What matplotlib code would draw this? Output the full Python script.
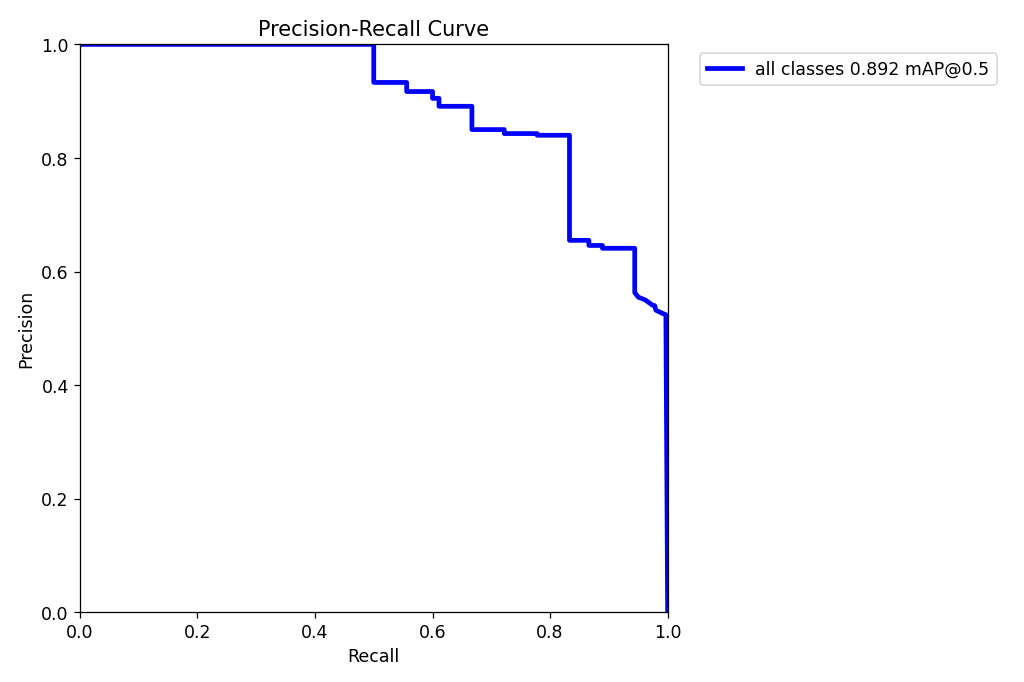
import matplotlib
matplotlib.use("Agg")
import matplotlib.pyplot as plt

recall = [0.0, 0.5, 0.5, 0.556, 0.556, 0.600, 0.600, 0.611, 0.611, 0.667, 0.667,
          0.722, 0.722, 0.778, 0.778, 0.833, 0.833, 0.866, 0.866, 0.889, 0.889,
          0.944, 0.944, 0.950, 0.962, 0.974, 0.978, 0.980, 0.990, 0.997, 1.0]
precision = [1.0, 1.0, 0.933, 0.933, 0.917, 0.917, 0.905, 0.905, 0.891, 0.891, 0.850,
             0.850, 0.843, 0.843, 0.840, 0.840, 0.655, 0.655, 0.646, 0.646, 0.641,
             0.641, 0.563, 0.555, 0.550, 0.541, 0.540, 0.532, 0.527, 0.524, 0.0]
label = "all classes 0.892 mAP@0.5"

plt.rcParams["font.size"] = 11

fig, ax = plt.subplots(1, 1, figsize=(9, 6), dpi=1024 / 9)
ax.plot(recall, precision, linewidth=3, color="blue", label=label)
ax.set_xlabel("Recall")
ax.set_ylabel("Precision")
ax.set_xlim(0, 1)
ax.set_ylim(0, 1)
ax.legend(bbox_to_anchor=(1.04, 1), loc="upper left")
ax.set_title("Precision-Recall Curve")
fig.subplots_adjust(left=0.078, right=0.652, top=0.934, bottom=0.102)
fig.savefig("out.png", dpi=1024 / 9)
